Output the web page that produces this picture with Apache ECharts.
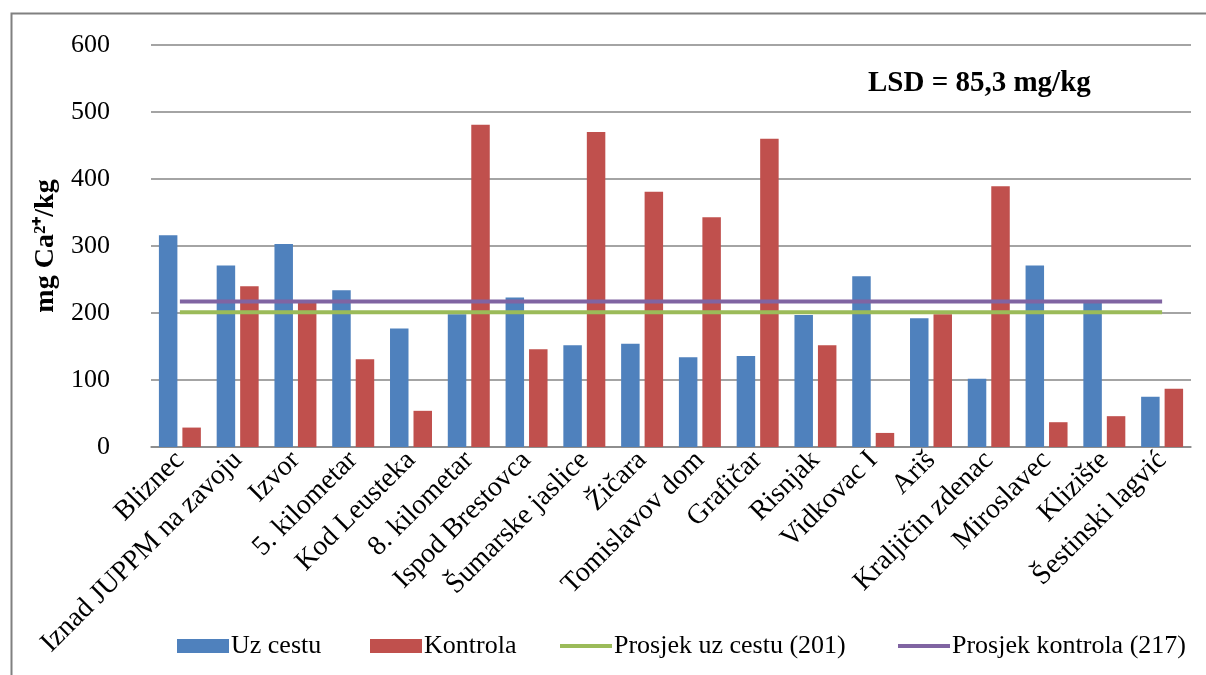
<!DOCTYPE html>
<html>
<head>
<meta charset="utf-8">
<script src="https://cdn.jsdelivr.net/npm/echarts@6/dist/echarts.min.js"></script>
<style>html,body{margin:0;padding:0;background:#fff;}#c{width:1206px;height:675px;}</style>
</head>
<body>
<div id="c"></div>
<script>
const categories = ['Bliznec','Iznad JUPPM na zavoju','Izvor','5. kilometar','Kod Leusteka','8. kilometar','Ispod Brestovca','Šumarske jaslice','Žičara','Tomislavov dom','Grafičar','Risnjak','Vidkovac I','Ariš','Kraljičin zdenac','Miroslavec','Klizište','Šestinski lagvić'];
const uzCestu = [316, 271, 303, 234, 177, 198, 223, 152, 154, 134, 136, 197, 255, 192, 102, 271, 217, 75];
const kontrola = [29, 240, 215, 131, 54, 481, 146, 470, 381, 343, 460, 152, 21, 198, 389, 37, 46, 87];
const prosjekUz = 201;
const prosjekKontrola = 217;
const yTicks = [0, 100, 200, 300, 400, 500, 600];
const seriesNames = ['Uz cestu', 'Kontrola', 'Prosjek uz cestu (201)', 'Prosjek kontrola (217)'];

const F = '"Liberation Serif", "Times New Roman", serif';
const lineIcon = 'path://M0,0H50V4H0Z';
const legendLefts = [172, 365, 555, 893];
const chart = echarts.init(document.getElementById('c'));
chart.setOption({
  animation: false,
  backgroundColor: '#fff',
  textStyle: { fontFamily: F, color: '#000' },
  graphic: [
    { type: 'rect', left: 9, top: 11, shape: { width: 1210, height: 680 }, style: { fill: 'none', stroke: '#808080', lineWidth: 2 } },
    { type: 'text', left: 868, top: 69, style: { text: 'LSD = 85,3 mg/kg', font: 'bold 29px ' + F, fill: '#000' } }
  ],
  grid: { left: 151, right: 15, top: 45, bottom: 228 },
  legend: seriesNames.map((n, i) => ({
    top: 628, left: legendLefts[i],
    itemWidth: 52, itemHeight: 14, itemGap: 0,
    textStyle: { fontFamily: F, fontSize: 26, color: '#000', padding: [0, 0, 0, -3] },
    data: [{ name: n, icon: i < 2 ? 'rect' : lineIcon }]
  })),
  xAxis: {
    type: 'category',
    data: categories,
    axisLine: { lineStyle: { color: '#868686', width: 1.5 } },
    axisTick: { show: false },
    axisLabel: { rotate: 45, interval: 0, fontFamily: F, fontSize: 28, color: '#000', margin: 9 }
  },
  yAxis: {
    type: 'value', min: 0, max: 600, interval: 100,
    name: 'mg Ca²⁺/kg', nameLocation: 'middle', nameGap: 89, nameRotate: 90,
    nameTextStyle: { fontFamily: F, fontSize: 28, fontWeight: 'bold', color: '#000' },
    axisLine: { show: false }, axisTick: { show: false },
    axisLabel: { fontFamily: F, fontSize: 26, color: '#000', margin: 41,
      formatter: v => yTicks.includes(v) ? String(v) : '' },
    splitLine: { lineStyle: { color: '#868686', width: 1.5 } }
  },
  series: [
    { name: seriesNames[0], type: 'bar', data: uzCestu, barWidth: '32%', barGap: '27%', itemStyle: { color: '#4F81BD' } },
    { name: seriesNames[1], type: 'bar', data: kontrola, barWidth: '32%', barGap: '27%', itemStyle: { color: '#C0504D' } },
    { name: seriesNames[2], type: 'line', data: categories.map(() => prosjekUz), symbol: 'none', lineStyle: { color: '#9BBB59', width: 4 }, itemStyle: { color: '#9BBB59' } },
    { name: seriesNames[3], type: 'line', data: categories.map(() => prosjekKontrola), symbol: 'none', lineStyle: { color: '#8064A2', width: 4 }, itemStyle: { color: '#8064A2' } }
  ]
});
</script>
</body>
</html>
